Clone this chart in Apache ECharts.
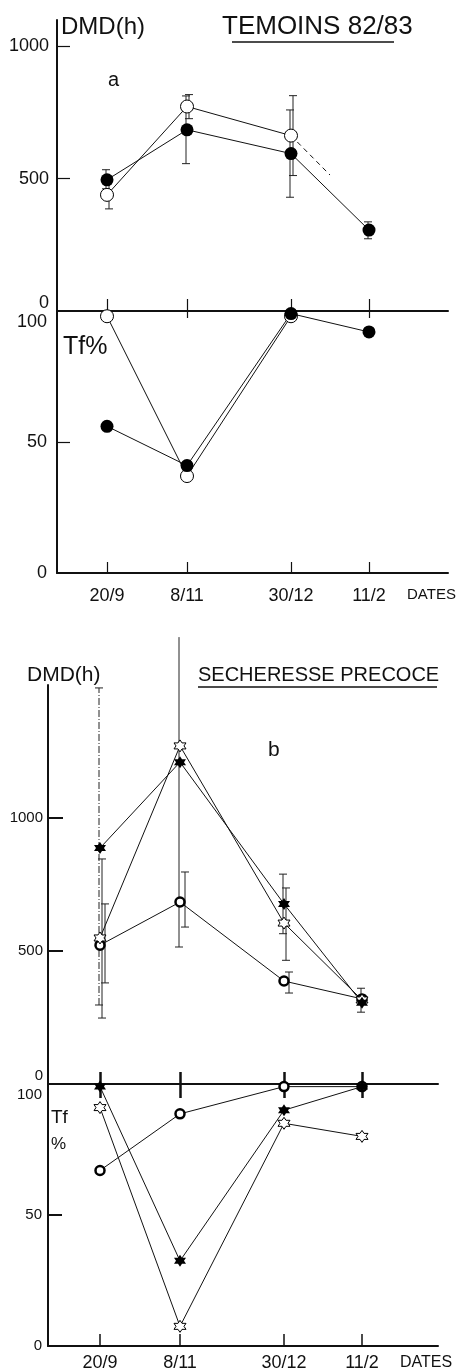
<!DOCTYPE html>
<html>
<head>
<meta charset="utf-8">
<script src="https://cdn.jsdelivr.net/npm/echarts@6/dist/echarts.min.js"></script>
<style>
  html, body { margin: 0; padding: 0; background: #fff; }
  #chart { width: 458px; height: 1372px; }
</style>
</head>
<body>
<div id="chart"></div>
<script>
// sampling dates and their position along the time axis
const dateLabels = ['20/9', '8/11', '30/12', '11/2']
const datePos = [0, 80, 184, 262]

// a : TEMOINS 82/83
const dmdFilledA = [496, 685, 595, 306]
const dmdFilledLoA = [462, 557, 430, 273]
const dmdFilledHiA = [534, 813, 760, 337]
const dmdOpenA = [439, 773, 663, null]
const dmdOpenLoA = [386, 727, 512, null]
const dmdOpenHiA = [492, 818, 814, null]
const dmdOpenDashX = [184, 223] // dashed, 30/12 half way to 11/2
const dmdOpenDashA = [663, 514]
const tfFilledA = [56, 41, 99, 92]
const tfOpenA = [98, 37, 98, null]

// b : SECHERESSE PRECOCE
const dmdStarB = [887, 1210, 677, 305]
const dmdStarLoB = [297, 515, 565, 270]
const dmdStarHiB = [1489, 1680, 789, 360]
const dmdHollowB = [549, 1271, 605, 316]
const dmdHollowLoB = [248, null, 465, null]
const dmdHollowHiB = [846, null, 737, null]
const dmdRingB = [522, 684, 387, 320]
const dmdRingLoB = [380, 590, 342, null]
const dmdRingHiB = [677, 797, 421, null]
const tfStarB = [99, 32.5, 90, 99]
const tfHollowB = [91, 7.5, 85, 80]
const tfRingB = [67, 88.6, 99, 99]

const INK = '#111'
const FONT = 'Liberation Sans'
const STAR = 'path://M0 -10 L2.887 -5 L8.66 -5 L5.77 0 L8.66 5 L2.887 5 L0 10 L-2.887 5 L-8.66 5 L-5.77 0 L-8.66 -5 L-2.887 -5 Z'

const chart = echarts.init(document.getElementById('chart'))

function pts(vals) {
  return vals.map((v, i) => v == null ? null : [datePos[i], v]).filter(Boolean)
}

function line(xi, yi, vals, sym) {
  return Object.assign({
    type: 'line', xAxisIndex: xi, yAxisIndex: yi, data: pts(vals),
    lineStyle: { color: INK, width: 1 }, animation: false, silent: true, z: 3
  }, sym)
}

const dot = { symbol: 'circle', symbolSize: 13, itemStyle: { color: '#000' } }
const hollowDot = { symbol: 'circle', symbolSize: 13, itemStyle: { color: '#fff', borderColor: '#000', borderWidth: 1 } }
const starFull = { symbol: STAR, symbolSize: 12, itemStyle: { color: '#000' } }
const starOpen = { symbol: STAR, symbolSize: 12, itemStyle: { color: '#fff', borderColor: '#000', borderWidth: 1 } }
const ring = { symbol: 'circle', symbolSize: 9, itemStyle: { color: '#fff', borderColor: '#000', borderWidth: 2.5 } }

// error bars, caps left off when the bar runs out of the frame
// dashes: optional line dash per date (null = solid)
function errorBars(xi, yi, lo, hi, dx, dashes) {
  return {
    type: 'custom', xAxisIndex: xi, yAxisIndex: yi, clip: false, silent: true, z: 2,
    animation: false,
    data: lo.map((l, i) => l == null ? null : [datePos[i], l, hi[i], i]).filter(Boolean),
    renderItem(params, api) {
      const pl = api.coord([api.value(0), api.value(1)])
      const ph = api.coord([api.value(0), api.value(2)])
      const x = pl[0] + dx
      const dash = dashes ? dashes[api.value(3)] : null
      const st = { stroke: '#222', lineWidth: 1, lineDash: dash || null }
      const cap = { stroke: '#222', lineWidth: 1 }
      const kids = [
        { type: 'line', shape: { x1: x, y1: pl[1], x2: x, y2: ph[1] }, style: st },
        { type: 'line', shape: { x1: x - 4, y1: pl[1], x2: x + 4, y2: pl[1] }, style: cap }
      ]
      if (ph[1] >= params.coordSys.y) {
        kids.push({ type: 'line', shape: { x1: x - 4, y1: ph[1], x2: x + 4, y2: ph[1] }, style: cap })
      }
      return { type: 'group', children: kids }
    }
  }
}

function xAx(grid, min, max, opt) {
  return Object.assign({
    type: 'value', gridIndex: grid, min: min, max: max, position: 'bottom',
    splitLine: { show: false },
    axisLine: { show: true, lineStyle: { color: INK, width: 2 } },
    axisTick: { show: true, inside: true, length: 12, customValues: datePos, lineStyle: { color: INK, width: 1.2 } },
    axisLabel: { show: false }
  }, opt)
}

function dateLabel(size, margin) {
  return {
    show: true, customValues: datePos, margin: margin, color: INK, fontFamily: FONT, fontSize: size,
    formatter: v => dateLabels[datePos.indexOf(v)]
  }
}

function yAx(grid, max, tickVals, labelVals, size, tickLen, tickW, margin, rich) {
  return {
    type: 'value', gridIndex: grid, min: 0, max: max,
    splitLine: { show: false },
    axisLine: { show: true, onZero: false, lineStyle: { color: INK, width: 2 } },
    axisTick: { show: true, inside: true, length: tickLen, customValues: tickVals, lineStyle: { color: INK, width: tickW } },
    axisLabel: {
      show: true, customValues: labelVals, margin: margin, color: INK, fontFamily: FONT, fontSize: size,
      formatter: v => rich[v] ? '{' + rich[v] + '|' + v + '}' : String(v),
      rich: {
        up: { fontSize: size, fontFamily: FONT, color: INK, padding: [0, 0, 16, 0] },
        down: { fontSize: size, fontFamily: FONT, color: INK, padding: [22, 0, 0, 0] }
      }
    }
  }
}

function txt(x, y, s, size, extra) {
  return {
    type: 'text', x: x, y: y, silent: true,
    style: Object.assign({ text: s, fill: INK, font: size + 'px "' + FONT + '"', textVerticalAlign: 'middle' }, extra || {})
  }
}

chart.setOption({
  backgroundColor: '#fff',
  animation: false,
  grid: [
    { left: 57, width: 391, top: 20, height: 291 },
    { left: 57, width: 391, top: 311, height: 262 },
    { left: 48, width: 390, top: 685, height: 399 },
    { left: 48, width: 390, top: 1084, height: 265 }
  ],
  xAxis: [
    xAx(0, -50, 341),
    xAx(1, -50, 341, { axisLabel: dateLabel(18, 14), axisTick: { show: true, inside: true, length: 11, customValues: datePos, lineStyle: { color: INK, width: 1.2 } } }),
    xAx(1, -50, 341, { position: 'top', axisLine: { show: false }, axisTick: { show: true, inside: true, length: 7, customValues: datePos, lineStyle: { color: INK, width: 1.2 } } }),
    xAx(2, -52, 338, { axisTick: { show: true, inside: true, length: 12, customValues: datePos, lineStyle: { color: INK, width: 2.5 } } }),
    xAx(3, -52, 338, { axisLabel: dateLabel(18, 8), axisTick: { show: true, inside: true, length: 12, customValues: datePos, lineStyle: { color: INK, width: 1.5 } } }),
    xAx(3, -52, 338, { position: 'top', axisLine: { show: false }, axisTick: { show: true, inside: true, length: 14, customValues: datePos, lineStyle: { color: INK, width: 2.5 } } })
  ],
  yAxis: [
    yAx(0, 1100, [500, 1000], [0, 500, 1000], 18, 13, 1.2, 8, { 0: 'up' }),
    yAx(1, 100, [50], [0, 50, 100], 18, 13, 1.2, 10, { 100: 'down' }),
    yAx(2, 1500, [500, 1000], [0, 500, 1000], 15, 15, 2, 5, { 0: 'up' }),
    yAx(3, 100, [50], [0, 50, 100], 15, 14, 2, 6, { 100: 'down' })
  ],
  series: [
    // a : DMD
    errorBars(0, 0, dmdOpenLoA, dmdOpenHiA, 2, null),
    errorBars(0, 0, dmdFilledLoA, dmdFilledHiA, -1, null),
    line(0, 0, dmdOpenA, hollowDot),
    line(0, 0, dmdFilledA, dot),
    {
      type: 'line', xAxisIndex: 0, yAxisIndex: 0, showSymbol: false, silent: true,
      data: dmdOpenDashX.map((x, i) => [x, dmdOpenDashA[i]]),
      lineStyle: { color: INK, width: 1, type: [5, 4] }
    },
    // a : Tf
    line(2, 1, tfOpenA, hollowDot),
    line(2, 1, tfFilledA, dot),
    // b : DMD
    errorBars(3, 2, dmdStarLoB, dmdStarHiB, -1, [[7, 2, 1, 2], null, null, null]),
    errorBars(3, 2, dmdHollowLoB, dmdHollowHiB, 2, null),
    errorBars(3, 2, dmdRingLoB, dmdRingHiB, 5, null),
    line(3, 2, dmdRingB, ring),
    line(3, 2, dmdHollowB, starOpen),
    line(3, 2, dmdStarB, starFull),
    // b : Tf
    line(5, 3, tfRingB, ring),
    line(5, 3, tfHollowB, starOpen),
    line(5, 3, tfStarB, starFull)
  ],
  graphic: [
    txt(61, 27, 'DMD(h)', 24),
    txt(222, 27, 'TEMOINS 82/83', 26),
    { type: 'line', silent: true, shape: { x1: 232, y1: 42, x2: 394, y2: 42 }, style: { stroke: INK, lineWidth: 1.5 } },
    txt(108, 80, 'a', 20),
    txt(63, 347, 'Tf%', 25),
    txt(407, 595, 'DATES', 15),
    txt(27, 675, 'DMD(h)', 21),
    txt(198, 675, 'SECHERESSE PRECOCE', 20),
    { type: 'line', silent: true, shape: { x1: 198, y1: 687, x2: 437, y2: 687 }, style: { stroke: INK, lineWidth: 1.5 } },
    txt(268, 750, 'b', 21),
    txt(51, 1118, 'Tf', 19),
    txt(51, 1144, '%', 17),
    txt(400, 1363, 'DATES', 16)
  ]
})
</script>
</body>
</html>
